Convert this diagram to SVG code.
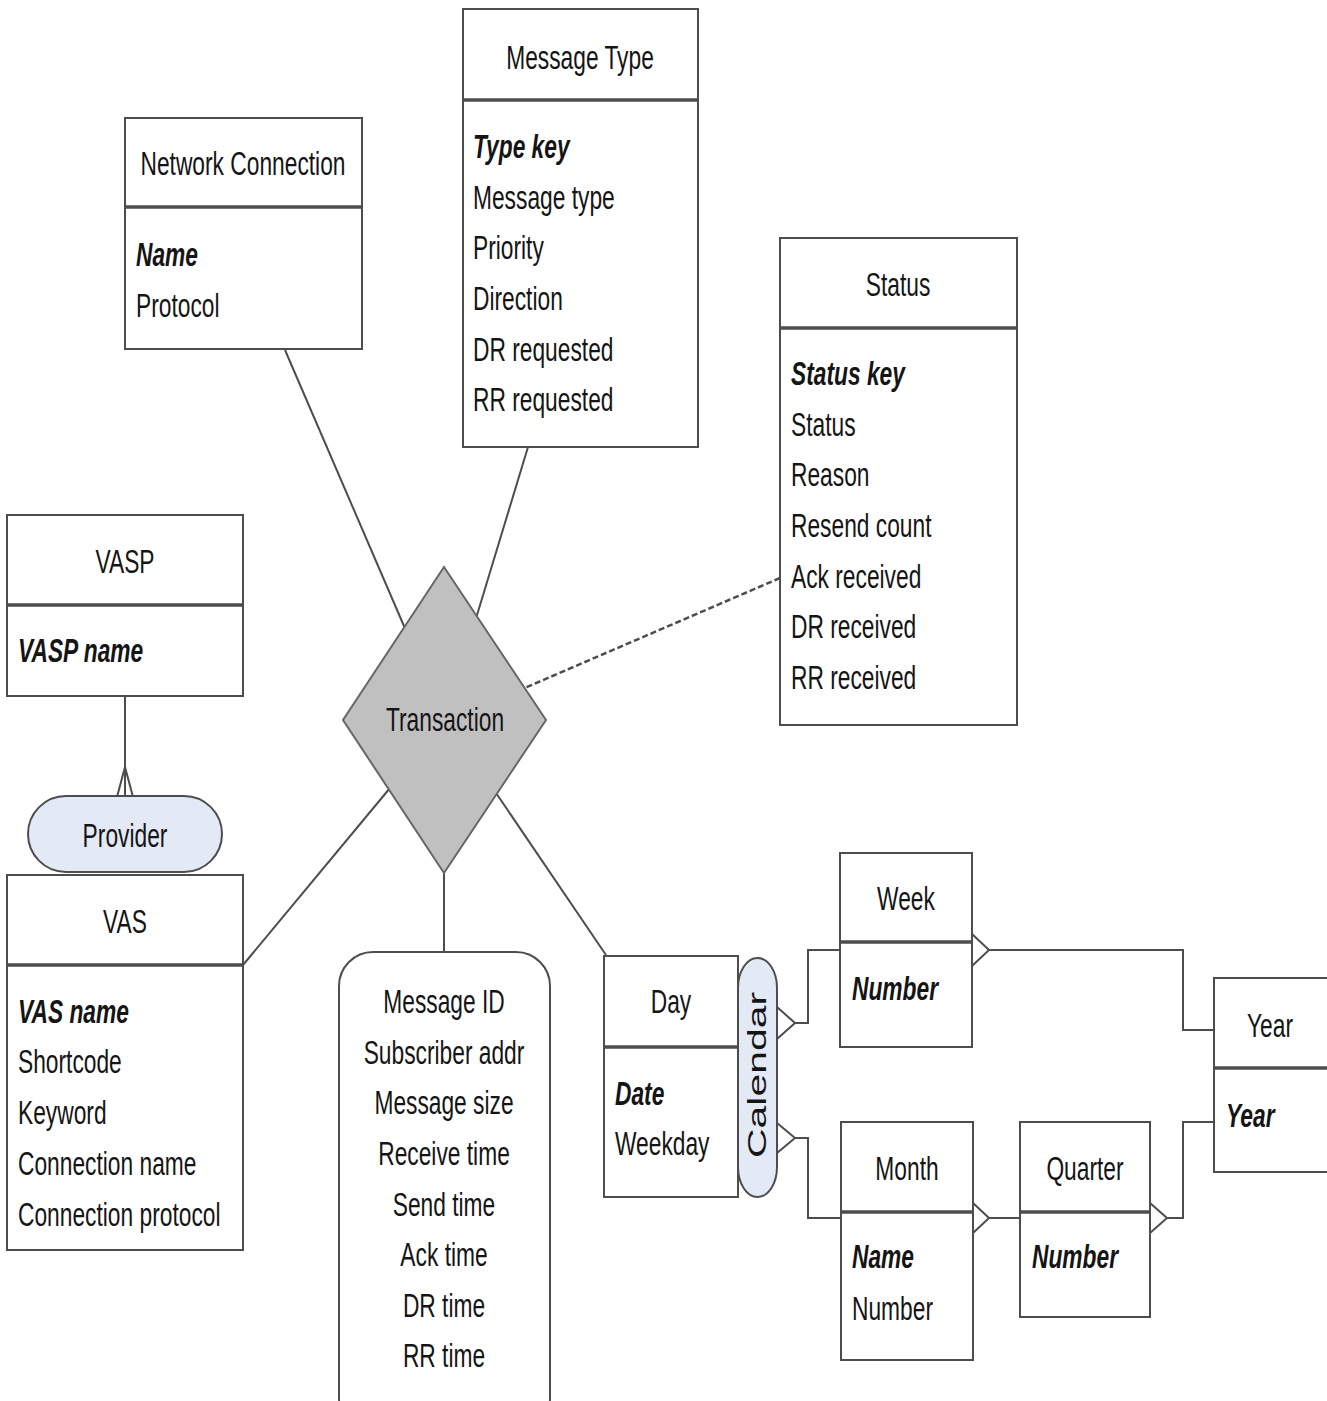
<svg xmlns="http://www.w3.org/2000/svg" width="1327" height="1401" viewBox="0 0 1327 1401">
<style>
.box{fill:#fff;stroke:#4d4d4d;stroke-width:2}
.div{stroke:#4d4d4d;stroke-width:3.5}
.ln{fill:none;stroke:#4d4d4d;stroke-width:2}
.dash{fill:none;stroke:#4d4d4d;stroke-width:2.5;stroke-dasharray:6 3}
.pill{fill:#e4eaf5;stroke:#4d4d4d;stroke-width:2}
text{font-family:"Liberation Sans",Arial,sans-serif;font-size:33px;fill:#151515}
.c{text-anchor:middle}
.k{font-weight:bold;font-style:italic}
</style>
<rect width="1327" height="1401" fill="#fff"/>
<g id="connectors">
<path class="ln" d="M285 350 L410 640"/>
<path class="ln" d="M528 447 L474 625"/>
<path class="dash" d="M780 578 L520 690"/>
<path class="ln" d="M243 965 L390 788"/>
<path class="ln" d="M444 860 L444 952"/>
<path class="ln" d="M494 790 L606 955"/>
<path class="ln" d="M125 696 L125 797 M117 797 L125 767 L133 797"/>
<path class="ln" d="M795 1023 H808 V950 H840 M777 1007 L795 1023 L777 1039"/>
<path class="ln" d="M795 1138 H808 V1218 H840 M777 1123 L795 1138 L777 1153"/>
<path class="ln" d="M989 950 H1183 V1030 H1214 M972 934 L989 950 L972 966"/>
<path class="ln" d="M989 1218 H1020 M973 1203 L989 1218 L973 1233"/>
<path class="ln" d="M1167 1218 H1183 V1122 H1214 M1150 1203 L1167 1218 L1150 1233"/>
</g>
<g id="network-connection">
<rect class="box" x="125" y="118" width="237" height="231"/>
<line class="div" x1="125" y1="207" x2="362" y2="207"/>
<text class="c" transform="matrix(0.69 0 0 1 243 175)">Network Connection</text>
<text class="k" transform="matrix(0.69 0 0 1 136 266)">Name</text>
<text transform="matrix(0.69 0 0 1 136 317)">Protocol</text>
</g>
<g id="message-type">
<rect class="box" x="463" y="9" width="235" height="438"/>
<line class="div" x1="463" y1="100" x2="698" y2="100"/>
<text class="c" transform="matrix(0.69 0 0 1 580 69)">Message Type</text>
<text class="k" transform="matrix(0.69 0 0 1 473 158)">Type key</text>
<text transform="matrix(0.69 0 0 1 473 209)">Message type</text>
<text transform="matrix(0.69 0 0 1 473 259)">Priority</text>
<text transform="matrix(0.69 0 0 1 473 310)">Direction</text>
<text transform="matrix(0.69 0 0 1 473 361)">DR requested</text>
<text transform="matrix(0.69 0 0 1 473 411)">RR requested</text>
</g>
<g id="status">
<rect class="box" x="780" y="238" width="237" height="487"/>
<line class="div" x1="780" y1="328" x2="1017" y2="328"/>
<text class="c" transform="matrix(0.69 0 0 1 898 296)">Status</text>
<text class="k" transform="matrix(0.69 0 0 1 791 385)">Status key</text>
<text transform="matrix(0.69 0 0 1 791 436)">Status</text>
<text transform="matrix(0.69 0 0 1 791 486)">Reason</text>
<text transform="matrix(0.69 0 0 1 791 537)">Resend count</text>
<text transform="matrix(0.69 0 0 1 791 588)">Ack received</text>
<text transform="matrix(0.69 0 0 1 791 638)">DR received</text>
<text transform="matrix(0.69 0 0 1 791 689)">RR received</text>
</g>
<g id="vasp">
<rect class="box" x="7" y="515" width="236" height="181"/>
<line class="div" x1="7" y1="605" x2="243" y2="605"/>
<text class="c" transform="matrix(0.69 0 0 1 125 573)">VASP</text>
<text class="k" transform="matrix(0.69 0 0 1 18 662)">VASP name</text>
</g>
<g id="provider">
<rect class="pill" x="28" y="796" width="194" height="76" rx="38" ry="38"/>
<text class="c" transform="matrix(0.69 0 0 1 125 847)">Provider</text>
</g>
<g id="vas">
<rect class="box" x="7" y="875" width="236" height="375"/>
<line class="div" x1="7" y1="965" x2="243" y2="965"/>
<text class="c" transform="matrix(0.69 0 0 1 125 933)">VAS</text>
<text class="k" transform="matrix(0.69 0 0 1 18 1023)">VAS name</text>
<text transform="matrix(0.69 0 0 1 18 1073)">Shortcode</text>
<text transform="matrix(0.69 0 0 1 18 1124)">Keyword</text>
<text transform="matrix(0.69 0 0 1 18 1175)">Connection name</text>
<text transform="matrix(0.69 0 0 1 18 1226)">Connection protocol</text>
</g>
<g id="transaction">
<polygon points="444,567 546,720 444,873 343,720" fill="#c0c0c0" stroke="#666" stroke-width="2"/>
<text class="c" transform="matrix(0.69 0 0 1 445 731)">Transaction</text>
</g>
<g id="message-attributes">
<rect class="box" x="339" y="952" width="211" height="480" rx="34" ry="34"/>
<text class="c" transform="matrix(0.69 0 0 1 444 1013)">Message ID</text>
<text class="c" transform="matrix(0.69 0 0 1 444 1064)">Subscriber addr</text>
<text class="c" transform="matrix(0.69 0 0 1 444 1114)">Message size</text>
<text class="c" transform="matrix(0.69 0 0 1 444 1165)">Receive time</text>
<text class="c" transform="matrix(0.69 0 0 1 444 1216)">Send time</text>
<text class="c" transform="matrix(0.69 0 0 1 444 1266)">Ack time</text>
<text class="c" transform="matrix(0.69 0 0 1 444 1317)">DR time</text>
<text class="c" transform="matrix(0.69 0 0 1 444 1367)">RR time</text>
</g>
<g id="day">
<rect class="box" x="604" y="956" width="134" height="241"/>
<line class="div" x1="604" y1="1047" x2="738" y2="1047"/>
<text class="c" transform="matrix(0.69 0 0 1 671 1013)">Day</text>
<text class="k" transform="matrix(0.69 0 0 1 615 1105)">Date</text>
<text transform="matrix(0.69 0 0 1 615 1155)">Weekday</text>
</g>
<g id="calendar">
<rect class="pill" x="738" y="958" width="39" height="239" rx="19.5" ry="30"/>
<text class="c" transform="translate(766 1075) rotate(-90)" style="font-size:25px" textLength="166" lengthAdjust="spacingAndGlyphs">Calendar</text>
</g>
<g id="week">
<rect class="box" x="840" y="853" width="132" height="194"/>
<line class="div" x1="840" y1="942" x2="972" y2="942"/>
<text class="c" transform="matrix(0.69 0 0 1 906 910)">Week</text>
<text class="k" transform="matrix(0.69 0 0 1 852 1000)">Number</text>
</g>
<g id="month">
<rect class="box" x="841" y="1122" width="132" height="238"/>
<line class="div" x1="841" y1="1212" x2="973" y2="1212"/>
<text class="c" transform="matrix(0.69 0 0 1 907 1180)">Month</text>
<text class="k" transform="matrix(0.69 0 0 1 852 1268)">Name</text>
<text transform="matrix(0.69 0 0 1 852 1320)">Number</text>
</g>
<g id="quarter">
<rect class="box" x="1020" y="1122" width="130" height="195"/>
<line class="div" x1="1020" y1="1212" x2="1150" y2="1212"/>
<text class="c" transform="matrix(0.69 0 0 1 1085 1180)">Quarter</text>
<text class="k" transform="matrix(0.69 0 0 1 1032 1268)">Number</text>
</g>
<g id="year">
<rect class="box" x="1214" y="978" width="120" height="194"/>
<line class="div" x1="1214" y1="1068" x2="1334" y2="1068"/>
<text class="c" transform="matrix(0.69 0 0 1 1270 1037)">Year</text>
<text class="k" transform="matrix(0.69 0 0 1 1226 1127)">Year</text>
</g>
</svg>
